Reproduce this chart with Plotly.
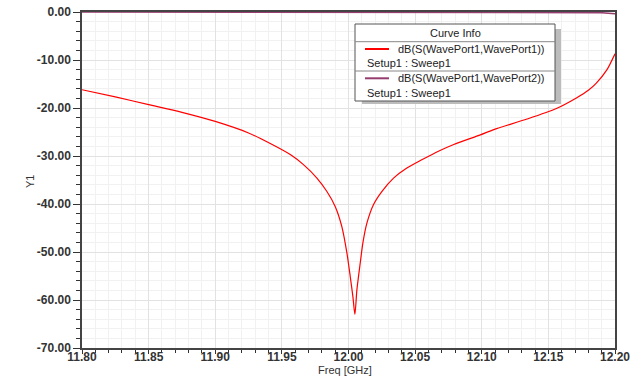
import plotly.graph_objects as go

# ---- data ----
freq_s11 = [11.80, 11.825, 11.85, 11.875, 11.90, 11.925, 11.9413, 11.9563, 11.9662,
            11.9763, 11.9838, 11.99, 11.995, 11.9988, 12.0013, 12.0033, 12.0048,
            12.0063, 12.0088, 12.0108, 12.0138, 12.0188, 12.025, 12.0338, 12.0438,
            12.055, 12.0675, 12.079, 12.099, 12.109, 12.134, 12.156, 12.171, 12.18,
            12.186, 12.194, 12.20]
s11_db = [-16.2, -17.7, -19.3, -20.9, -22.8, -25.2, -27.4, -29.7, -31.8,
          -34.6, -37.4, -40.5, -44.7, -50.2, -55.1, -59.3, -63.0,
          -57.9, -52.3, -48.1, -44.0, -40.1, -37.4, -34.6, -32.5,
          -30.8, -29.0, -27.6, -25.6, -24.5, -22.3, -20.1, -17.9, -16.3,
          -14.8, -12.0, -8.7]

freq_s21 = [11.80, 12.00, 12.15, 12.18, 12.19, 12.20]
s21_db = [-0.01, -0.01, -0.02, -0.05, -0.15, -0.35]

x_ticks = [11.80, 11.85, 11.90, 11.95, 12.00, 12.05, 12.10, 12.15, 12.20]
y_ticks = [0, -10, -20, -30, -40, -50, -60, -70]

legend_items = ["dB(S(WavePort1,WavePort1))", "dB(S(WavePort1,WavePort2))"]
legend_sub = "Setup1 : Sweep1"
s11_color = "#FF0000"
s21_color = "#963C6E"

W, H = 640, 376
L, R, T, B = 82, 25, 12, 28
pw, ph = W - L - R, H - T - B


def px(x):
    return (x - L) / pw


def py(y):
    return (H - B - y) / ph


fig = go.Figure()
fig.add_trace(go.Scatter(x=freq_s11, y=s11_db, mode="lines",
                         line=dict(color=s11_color, width=1.2, shape="spline", smoothing=0.7),
                         name=legend_items[0]))
fig.add_trace(go.Scatter(x=freq_s21, y=s21_db, mode="lines",
                         line=dict(color=s21_color, width=1.5), name=legend_items[1],
                         cliponaxis=False))

tickfont = dict(family="Liberation Sans, Arial", size=12, color="#333333", weight="bold")

fig.update_xaxes(range=[11.80, 12.20], tickvals=x_ticks,
                 ticktext=[f"{v:.2f}" for v in x_ticks],
                 ticks="outside", ticklen=4, tickcolor="#333", tickwidth=1,
                 ticklabelstandoff=-7,
                 showline=True, linecolor="#444", linewidth=1.5, mirror=True,
                 showgrid=True, gridcolor="#e2e2e2", gridwidth=1,
                 minor=dict(dtick=0.01, ticks="outside", ticklen=3, tickcolor="#333",
                            showgrid=True, gridcolor="#f1f1f1", gridwidth=1),
                 tickfont=tickfont, zeroline=False, automargin=False)
fig.update_yaxes(range=[-70, 0], tickvals=y_ticks,
                 ticktext=[f"{v:.2f}" for v in y_ticks],
                 ticks="outside", ticklen=7, tickcolor="#333", tickwidth=1,
                 showline=True, linecolor="#444", linewidth=1.5, mirror=True,
                 showgrid=True, gridcolor="#e2e2e2", gridwidth=1,
                 minor=dict(dtick=2, ticks="outside", ticklen=4, tickcolor="#333",
                            showgrid=True, gridcolor="#f1f1f1", gridwidth=1),
                 tickfont=tickfont, zeroline=False, automargin=False)

shapes = []
# legend shadow
shapes.append(dict(type="rect", xref="paper", yref="paper", layer="above",
                   x0=px(362), x1=px(561), y0=py(104), y1=py(29),
                   fillcolor="#bcbcbc", line=dict(width=0)))
# legend box
shapes.append(dict(type="rect", xref="paper", yref="paper", layer="above",
                   x0=px(355), x1=px(555), y0=py(101), y1=py(24),
                   fillcolor="white", line=dict(color="#555555", width=1)))
for yy in (41.7, 71):
    shapes.append(dict(type="line", xref="paper", yref="paper", layer="above",
                       x0=px(355), x1=px(555), y0=py(yy), y1=py(yy),
                       line=dict(color="#888888", width=1)))
for yy, c in ((49, s11_color), (78.3, s21_color)):
    shapes.append(dict(type="line", xref="paper", yref="paper", layer="above",
                       x0=px(365), x1=px(389), y0=py(yy), y1=py(yy),
                       line=dict(color=c, width=2)))

lf = dict(family="Liberation Sans, Arial", size=11, color="#222222")
ann = [
    dict(text="Curve Info", x=px(455), y=py(32.5), xanchor="center", yanchor="middle"),
    dict(text=legend_items[0], x=px(396), y=py(49), xanchor="left", yanchor="middle"),
    dict(text=legend_sub, x=px(365), y=py(63), xanchor="left", yanchor="middle"),
    dict(text=legend_items[1], x=px(396), y=py(78.3), xanchor="left", yanchor="middle"),
    dict(text=legend_sub, x=px(365), y=py(92.5), xanchor="left", yanchor="middle"),
]
for a in ann:
    a.update(xref="paper", yref="paper", showarrow=False, font=lf)
ann.append(dict(text="Freq [GHz]", x=px(345), y=py(370), xref="paper", yref="paper",
                showarrow=False, xanchor="center", yanchor="middle",
                font=dict(family="Liberation Sans, Arial", size=11, color="#333")))
ann.append(dict(text="Y1", x=px(30), y=py(182), xref="paper", yref="paper",
                showarrow=False, xanchor="center", yanchor="middle", textangle=-90,
                font=dict(family="Liberation Sans, Arial", size=11, color="#333")))

fig.update_layout(width=W, height=H, margin=dict(l=L, r=R, t=T, b=B, autoexpand=False),
                  paper_bgcolor="white", plot_bgcolor="white", showlegend=False,
                  shapes=shapes, annotations=ann)

fig.write_html("out.html", config={"displayModeBar": False},
               post_script="document.body.style.margin='0';document.body.style.padding='0';"
                           "document.body.style.overflow='hidden';")
